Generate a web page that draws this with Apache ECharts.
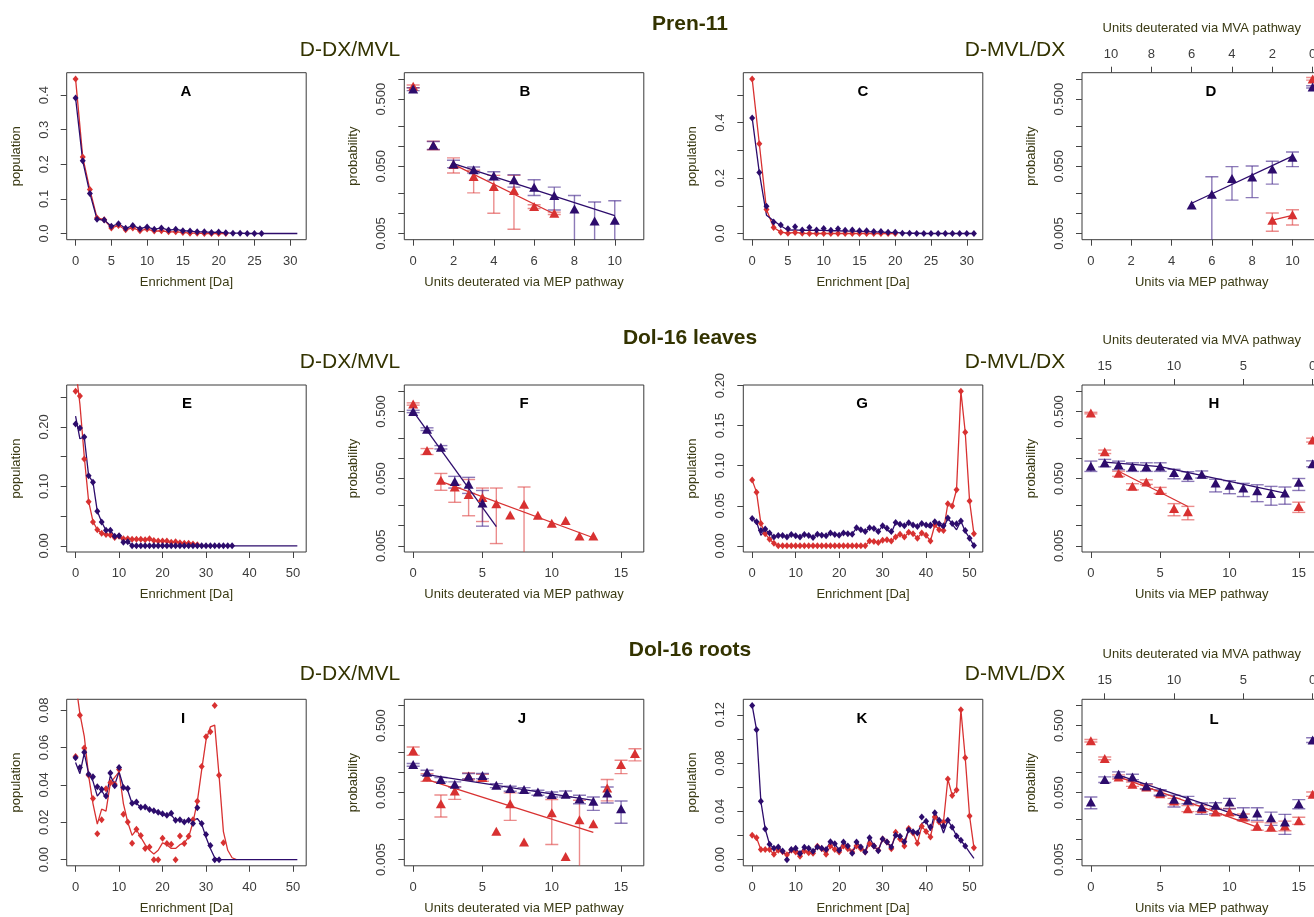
<!DOCTYPE html>
<html><head><meta charset="utf-8">
<script src="https://cdn.jsdelivr.net/npm/echarts@6/dist/echarts.min.js"></script>
<style>html,body{margin:0;padding:0;background:#fff}#c{width:1314px;height:917px}</style>
</head><body><div id="c"></div>
<script>
// ================= DATA =================
// Population panels: x = enrichment in Da = array index
const A_red_obs  = [0.447,0.221,0.127,0.045,0.040,0.016,0.023,0.011,0.016,0.008,0.013,0.007,0.008,0.005,0.005,0.003,0.001,0.001,0,0,0,0];
const A_red_fit  = [0.447,0.221,0.127,0.045,0.040,0.016,0.023,0.011,0.016,0.008,0.013,0.007,0.008,0.005,0.005,0.003,0.001,0.001,0,0,0,0];
const A_blue_obs = [0.392,0.210,0.116,0.041,0.039,0.021,0.028,0.015,0.023,0.014,0.019,0.012,0.016,0.010,0.012,0.008,0.007,0.005,0.005,0.003,0.004,0.002,0.001,0.001,0,0,0];
const A_blue_fit = [0.392,0.210,0.116,0.041,0.039,0.021,0.028,0.015,0.023,0.014,0.019,0.012,0.016,0.010,0.012,0.008,0.007,0.005,0.005,0.003,0.004,0.002,0.001,0.001,0,0,0,0,0,0,0,0];

const C_red_obs  = [0.558,0.324,0.087,0.022,0.005,0.001,0.004,0.001,0,0,0,0,0,0,0,0,0,0,0,0,0];
const C_red_fit  = [0.558,0.324,0.087,0.022,0.005,0.001,0.004,0.001,0,0,0,0,0,0,0,0,0,0,0,0,0];
const C_blue_obs = [0.417,0.220,0.098,0.042,0.031,0.017,0.024,0.013,0.022,0.013,0.018,0.012,0.017,0.012,0.013,0.010,0.010,0.007,0.007,0.005,0.005,0.001,0.001,0,0,0,0,0,0,0,0,0];
const C_blue_fit = [0.417,0.220,0.066,0.046,0.028,0.012,0.013,0.011,0.012,0.011,0.011,0.010,0.010,0.009,0.009,0.008,0.007,0.006,0.005,0.004,0.003,0.002,0.001,0.001,0,0,0,0,0,0,0,0];

const E_red_obs  = [0.260,0.252,0.146,0.074,0.040,0.027,0.021,0.019,0.018,0.014,0.016,0.012,0.012,0.011,0.011,0.011,0.010,0.012,0.009,0.008,0.008,0.008,0.006,0.007,0.005,0.0045,0.0045,0.003,0.002];
const E_red_fit  = [0.300,0.238,0.150,0.075,0.041,0.027,0.021,0.019,0.017,0.015,0.015,0.013,0.012,0.011,0.011,0.010,0.010,0.010,0.009,0.008,0.008,0.007,0.006,0.006,0.005,0.004,0.003,0.002,0.001];
const E_blue_obs = [0.205,0.198,0.183,0.118,0.107,0.058,0.040,0.026,0.026,0.016,0.017,0.006,0.007,0,0,0,0,0,0,0,0,0,0,0,0,0,0,0,0,0,0,0,0,0,0,0,0];
const E_blue_fit = [0.218,0.180,0.183,0.118,0.107,0.058,0.040,0.026,0.026,0.016,0.017,0.006,0.007,0,0,0,0,0,0,0,0,0,0,0,0,0,0,0,0,0,0,0,0,0,0,0,0,0,0,0,0,0,0,0,0,0,0,0,0,0,0,0];

const G_red_obs  = [0.082,0.067,0.028,0.015,0.0083,0.0033,0,0,0,0,0,0,0,0,0,0,0,0,0,0,0,0,0,0,0,0,0,0.006,0.0054,0.004,0.007,0.0075,0.006,0.011,0.0146,0.011,0.017,0.015,0.0096,0.016,0.0133,0.006,0.026,0.020,0.019,0.0525,0.0496,0.070,0.193,0.1417,0.0558,0.015];
const G_red_fit  = [0.082,0.067,0.028,0.015,0.0083,0.0033,0,0,0,0,0,0,0,0,0,0,0,0,0,0,0,0,0,0,0,0,0,0.006,0.0054,0.004,0.007,0.0075,0.006,0.011,0.0146,0.011,0.017,0.015,0.0096,0.016,0.0133,0.006,0.026,0.020,0.019,0.0525,0.0496,0.070,0.193,0.1417,0.0558,0.015];
const G_blue_obs = [0.034,0.030,0.019,0.021,0.016,0.011,0.013,0.013,0.011,0.014,0.0125,0.011,0.014,0.013,0.0104,0.0146,0.0133,0.0125,0.016,0.014,0.0133,0.016,0.015,0.0146,0.0225,0.020,0.018,0.0225,0.0217,0.018,0.025,0.022,0.018,0.029,0.027,0.025,0.0288,0.026,0.024,0.028,0.026,0.026,0.030,0.0275,0.025,0.0346,0.028,0.0275,0.031,0.019,0.0096,0.0004];
const G_blue_fit = [0.034,0.030,0.013,0.020,0.016,0.011,0.013,0.013,0.011,0.014,0.0125,0.011,0.014,0.013,0.0104,0.0146,0.0133,0.0125,0.016,0.014,0.0133,0.016,0.015,0.0146,0.0225,0.020,0.018,0.0225,0.0217,0.018,0.025,0.020,0.016,0.029,0.027,0.025,0.0288,0.026,0.024,0.028,0.026,0.022,0.030,0.0275,0.021,0.0346,0.027,0.020,0.031,0.018,0.0096,0];

const I_red_obs  = [0.0552,0.0773,0.0598,0.0452,0.0327,0.0138,0.0214,0.0379,0.0411,0.0404,0.0482,0.0243,0.0202,0.0088,0.0163,0.0129,0.0059,0.0068,0,0,0.0114,0.0086,0.0082,0,0.0127,0.0086,0.0125,0.0214,0.0313,0.0498,0.0657,0.0684,0.0825,0.0452,0.0091];
const I_red_fit  = [0.095,0.078,0.066,0.045,0.030,0.019,0.027,0.026,0.041,0.044,0.047,0.030,0.020,0.013,0.016,0.012,0.008,0.005,0.003,0.005,0.009,0.008,0.006,0.006,0.008,0.009,0.012,0.020,0.031,0.048,0.064,0.071,0.072,0.045,0.015,0.005,0.001,0];
const I_blue_obs = [0.0545,0.0493,0.0575,0.0457,0.0443,0.039,0.0377,0.0341,0.0464,0.0395,0.0493,0.0386,0.038,0.0302,0.0309,0.028,0.0282,0.0268,0.0261,0.0254,0.0246,0.0237,0.0248,0.0211,0.0214,0.0202,0.0211,0.0193,0.0277,0.0193,0.0134,0.0075,0,0];
const I_blue_fit = [0.052,0.046,0.057,0.046,0.042,0.034,0.037,0.033,0.045,0.040,0.047,0.039,0.037,0.030,0.030,0.028,0.028,0.027,0.026,0.025,0.024,0.024,0.024,0.021,0.021,0.020,0.021,0.021,0.022,0.019,0.012,0.006,0.001,0,0,0,0,0,0,0,0,0,0,0,0,0,0,0,0,0,0,0];

const K_red_obs  = [0.0201,0.0182,0.0083,0.0083,0.0083,0.0044,0.0077,0.0066,0.0041,0.0077,0.0063,0.0028,0.0072,0.0058,0.0052,0.011,0.0091,0.0044,0.0113,0.0083,0.0063,0.0113,0.0091,0.0063,0.0113,0.0091,0.0063,0.0132,0.0113,0.0077,0.0171,0.0146,0.0091,0.0226,0.0171,0.0113,0.0257,0.0221,0.0135,0.0276,0.0234,0.0188,0.0353,0.0312,0.0312,0.0668,0.0532,0.0577,0.1241,0.0844,0.0361,0.0099];
const K_red_fit  = [0.0201,0.0182,0.0083,0.0083,0.0083,0.0044,0.0077,0.0066,0.0041,0.0077,0.0063,0.0028,0.0072,0.0058,0.0052,0.011,0.0091,0.0044,0.0113,0.0083,0.0063,0.0113,0.0091,0.0063,0.0113,0.0091,0.0063,0.0132,0.0113,0.0077,0.0171,0.0146,0.0091,0.0226,0.0171,0.0113,0.0257,0.0221,0.0135,0.0276,0.0234,0.0188,0.0353,0.0312,0.0312,0.0668,0.0532,0.0577,0.1241,0.0844,0.0361,0.0099];
const K_blue_obs = [0.1277,0.1076,0.0483,0.0254,0.0127,0.0094,0.0105,0.0072,0,0.0083,0.0094,0.005,0.0102,0.0094,0.0069,0.0105,0.0094,0.0083,0.0149,0.0132,0.0077,0.0146,0.0113,0.0052,0.0146,0.0105,0.0063,0.0182,0.0113,0.0074,0.0171,0.0146,0.0105,0.0201,0.0193,0.0149,0.0246,0.0232,0.0221,0.0353,0.0317,0.027,0.0389,0.0326,0.0279,0.0326,0.0268,0.0196,0.016,0.0113];
const K_blue_fit = [0.1277,0.1076,0.0483,0.0254,0.0127,0.0094,0.0105,0.0072,0.0030,0.0083,0.0094,0.005,0.0102,0.0094,0.0069,0.0105,0.0094,0.0083,0.0149,0.0132,0.0077,0.0146,0.0113,0.0052,0.0146,0.0105,0.0063,0.0182,0.0113,0.0074,0.0171,0.0146,0.0105,0.0201,0.0193,0.0149,0.0246,0.0232,0.0221,0.0300,0.0317,0.024,0.0389,0.0326,0.022,0.0326,0.0268,0.0196,0.016,0.0113,0.006,0.001];

// Probability panels (log y): x = units deuterated via MEP pathway
const B_blue_x  = [0,1,2,3,4,5,6,7,8,9,10];
const B_blue_p  = [0.706,0.103,0.0542,0.0446,0.0362,0.0315,0.0245,0.0184,0.0116,0.0077,0.0079];
const B_blue_lo = [0.67,0.089,0.0478,0.0397,0.0311,0.0245,0.0184,0.0112,0.0039,0.003,0.003];
const B_blue_hi = [0.74,0.117,0.0615,0.0489,0.0415,0.0375,0.0316,0.0245,0.0184,0.0147,0.0154];
const B_red_x   = [0,1,2,3,4,5,6,7];
const B_red_p   = [0.774,0.103,0.0533,0.0354,0.0251,0.0218,0.0126,0.0100];
const B_red_lo  = [0.74,0.088,0.0397,0.0201,0.0100,0.0058,0.0118,0.0096];
const B_red_hi  = [0.81,0.118,0.0667,0.0436,0.0366,0.0366,0.0134,0.0104];
const B_blue_fit_x = [2,10], B_blue_fit = [0.0548,0.0092];
const B_red_fit_x  = [2,7],  B_red_fit  = [0.0533,0.00975];

const D_blue_x  = [5,6,7,8,9,10,11];
const D_blue_p  = [0.0133,0.0192,0.033,0.0346,0.0456,0.0682,0.757];
const D_blue_lo = [null,0.003,0.0157,0.0171,0.0272,0.0494,0.73];
const D_blue_hi = [null,0.035,0.0494,0.0505,0.0594,0.0816,0.79];
const D_red_x   = [9,10,11];
const D_red_p   = [0.0079,0.0095,1.0];
const D_red_lo  = [0.0054,0.0067,0.96];
const D_red_hi  = [0.0101,0.0113,1.05];
const D_blue_fit_x = [5,10], D_blue_fit = [0.0141,0.071];
const D_red_fit_x  = [9,10], D_red_fit  = [0.0079,0.0093];

const F_blue_x  = [0,1,2,3,4,5];
const F_blue_p  = [0.5,0.272,0.146,0.0451,0.0411,0.0216];
const F_blue_lo = [0.48,0.26,0.138,0.0362,0.0301,0.0098];
const F_blue_hi = [0.52,0.285,0.155,0.054,0.0522,0.0333];
const F_red_x   = [0,1,2,3,4,5,6,7,8,9,10,11,12,13];
const F_red_p   = [0.644,0.1315,0.0472,0.0375,0.0291,0.0262,0.0211,0.0144,0.0208,0.0143,0.0108,0.0119,0.0070,0.0070];
const F_red_lo  = [0.62,0.114,0.0335,0.0222,0.014,0.0115,0.0054,null,0.003,null,null,null,null,null];
const F_red_hi  = [0.67,0.14,0.0597,0.0407,0.0485,0.0362,0.0362,null,0.0375,null,null,null,null,null];
const F_blue_fit_x = [0,6],  F_blue_fit = [0.5,0.00964];
const F_red_fit_x  = [2,13], F_red_fit  = [0.0456,0.00659];

const H_blue_x  = [0,1,2,3,4,5,6,7,8,9,10,11,12,13,14,15,16];
const H_blue_p  = [0.0766,0.0859,0.0802,0.0748,0.0748,0.0766,0.0615,0.0561,0.058,0.0431,0.0397,0.0362,0.033,0.0301,0.0305,0.044,0.083];
const H_blue_lo = [0.0639,0.0748,0.068,0.064,0.064,0.064,0.0497,0.0455,0.051,0.0317,0.0298,0.027,0.0227,0.0201,0.0208,0.0333,0.075];
const H_blue_hi = [0.0912,0.0966,0.091,0.086,0.086,0.086,0.0688,0.0633,0.065,0.0489,0.0466,0.0425,0.0405,0.0383,0.0375,0.0502,0.092];
const H_red_x   = [0,1,2,3,4,5,6,7,15,16];
const H_red_p   = [0.472,0.1256,0.0601,0.0384,0.0446,0.0334,0.018,0.016,0.0192,0.188];
const H_red_lo  = [0.46,0.118,0.054,0.034,0.041,0.030,0.014,0.0122,0.0157,0.175];
const H_red_hi  = [0.485,0.133,0.0645,0.042,0.048,0.037,0.0212,0.0193,0.0223,0.20];
const H_blue_fit_x = [1,5,14], H_blue_fit = [0.088,0.0752,0.0305];
const H_red_fit_x  = [2,7],    H_red_fit  = [0.0644,0.0192];

const J_blue_x  = [0,1,2,3,4,5,6,7,8,9,10,11,12,13,14,15];
const J_blue_p  = [0.1315,0.101,0.0783,0.0667,0.0879,0.090,0.0644,0.0574,0.0555,0.0512,0.0467,0.0472,0.0406,0.0371,0.0494,0.0288];
const J_blue_lo = [0.124,0.091,0.0723,0.0608,0.081,0.081,0.0594,0.0524,0.0494,0.0456,0.0431,0.0431,0.0342,0.0272,0.035,0.0175];
const J_blue_hi = [0.136,0.108,0.084,0.0723,0.0964,0.0964,0.0682,0.0622,0.0594,0.0542,0.0512,0.053,0.0456,0.0431,0.0608,0.0375];
const J_red_x   = [0,1,2,3,4,5,6,7,8,10,11,12,13,14,15,16];
const J_red_p   = [0.211,0.0859,0.0342,0.053,0.0889,0.084,0.0133,0.0342,0.0092,0.025,0.00555,0.0197,0.0171,0.0587,0.1315,0.192];
const J_red_lo  = [0.18,0.0735,0.0216,0.0396,0.078,0.074,null,0.0193,null,0.0084,null,0.003,null,0.0376,0.096,0.149];
const J_red_hi  = [0.24,0.096,0.046,0.061,0.098,0.094,null,0.0495,null,0.0395,null,0.0385,null,0.0786,0.152,0.226];
const J_blue_fit_x = [1,13], J_blue_fit = [0.0931,0.0384];
const J_red_fit_x  = [1,13], J_red_fit  = [0.0783,0.0128];

const L_blue_x  = [0,1,2,3,4,5,6,7,8,9,10,11,12,13,14,15,16];
const L_blue_p  = [0.0362,0.0783,0.0942,0.0859,0.063,0.0512,0.0397,0.0384,0.0305,0.0323,0.0362,0.0242,0.0248,0.0211,0.0182,0.0342,0.305];
const L_blue_lo = [0.0288,0.0707,0.0859,0.0783,0.0574,0.0456,0.0305,0.0342,0.0237,0.0242,0.0288,0.0197,0.0193,0.0162,0.0119,0.0288,0.28];
const L_blue_hi = [0.0431,0.0859,0.102,0.0942,0.0682,0.0555,0.0456,0.044,0.035,0.0354,0.0411,0.0298,0.0298,0.0256,0.0237,0.0393,0.33];
const L_red_x   = [0,1,2,3,4,5,6,7,8,9,10,11,12,13,14,15,16];
const L_red_p   = [0.298,0.162,0.0859,0.0667,0.0608,0.0483,0.0375,0.0288,0.0288,0.0256,0.0256,0.0216,0.0158,0.0153,0.016,0.019,0.0472];
const L_red_lo  = [0.285,0.155,0.080,0.062,0.056,0.044,0.034,0.026,0.026,0.023,0.023,0.019,0.0137,0.0132,0.0135,0.0168,0.044];
const L_red_hi  = [0.31,0.17,0.092,0.072,0.066,0.053,0.041,0.032,0.032,0.029,0.029,0.024,0.0182,0.0177,0.0188,0.0214,0.051];
const L_blue_fit_x = [2,11], L_blue_fit = [0.091,0.0216];
const L_red_fit_x  = [2,12], L_red_fit  = [0.0859,0.0153];

// Tick values
const X_TICKS_30 = [0,5,10,15,20,25,30];
const X_TICKS_50 = [0,10,20,30,40,50];
const X_TICKS_10 = [0,2,4,6,8,10];
const X_TICKS_15 = [0,5,10,15];
const MVA_TICKS_D = [0,2,4,6,8,10];
const MVA_TICKS_HL = [0,5,10,15];
const LOG_TICKS = [0.005,0.01,0.02,0.05,0.1,0.2,0.5,1];
const LOG_LABELS = [0.005,0.05,0.5];
const A_yticks = [0,0.1,0.2,0.3,0.4], A_ylabels = [0,0.1,0.2,0.3,0.4];
const C_yticks = [0,0.1,0.2,0.3,0.4,0.5], C_ylabels = [0,0.2,0.4];
const E_yticks = [0,0.05,0.1,0.15,0.2,0.25], E_ylabels = [0,0.1,0.2];
const G_yticks = [0,0.05,0.1,0.15,0.2], G_ylabels = [0,0.05,0.1,0.15,0.2];
const I_yticks = [0,0.02,0.04,0.06,0.08], I_ylabels = [0,0.02,0.04,0.06,0.08];
const K_yticks = [0,0.02,0.04,0.06,0.08,0.1,0.12], K_ylabels = [0,0.04,0.08,0.12];

// ================= STYLE / LAYOUT =================
const RED = '#d83131', BLUE = '#2d0c6c';
const RED_EB = 'rgba(222,70,70,0.62)', BLUE_EB = 'rgba(70,40,140,0.62)';
const FONT = '"Liberation Sans", Arial, Helvetica, sans-serif';
const TXT = '#3a3a14', TICKC = '#3c3c3c';
const COLS = [66.7, 404.3, 743.3, 1082], ROWS = [72.7, 385, 699.3], W = 239.5, HS = [167, 167, 166.5];
const LOGMIN = 0.004044, LOGMAX = 1.2362;

const grids = [], xAxes = [], yAxes = [], series = [], graphics = [];

function axisCommon(ticks, labels, fmt, margin){
  return {
    axisLine:{show:false, onZero:false}, splitLine:{show:false},
    axisTick:{show:true, inside:false, length:6, lineStyle:{color:'#444', width:1}, customValues:ticks},
    axisLabel:{show:true, customValues:labels, margin:margin, color:TICKC, fontFamily:FONT, fontSize:13, formatter:fmt, hideOverlap:false},
    nameTextStyle:{color:TXT, fontFamily:FONT, fontSize:13}
  };
}

function panel(o){
  const gi = grids.length;
  grids.push({left:COLS[o.col], top:ROWS[o.row], width:W, height:HS[o.row], show:true,
    borderColor:'#3a3a3a', borderWidth:1, backgroundColor:'rgba(0,0,0,0)', containLabel:false, outerBoundsMode:'none'});
  const xi = xAxes.length;
  xAxes.push(Object.assign({gridIndex:gi, type:'value', position:'bottom', min:o.xr[0], max:o.xr[1],
    name:o.xname, nameLocation:'middle', nameGap:36}, axisCommon(o.xt, o.xt, v=>String(v), 15)));
  if (o.mva){
    xAxes.push(Object.assign({gridIndex:gi, type:'value', position:'top', inverse:true, min:o.xr[0], max:o.xr[1],
      name:'Units deuterated via MVA pathway', nameLocation:'middle', nameGap:38}, axisCommon(o.mva, o.mva, v=>String(v), 12)));
  }
  const yi = yAxes.length;
  if (o.log){
    yAxes.push(Object.assign({gridIndex:gi, type:'log', logBase:10, min:LOGMIN, max:LOGMAX,
      name:'probability', nameLocation:'middle', nameGap:44}, axisCommon(LOG_TICKS, LOG_LABELS, v=>Number(v).toFixed(3), 16)));
  } else {
    yAxes.push(Object.assign({gridIndex:gi, type:'value', min:o.yr[0], max:o.yr[1],
      name:'population', nameLocation:'middle', nameGap:44}, axisCommon(o.yt, o.yl, v=>Number(v).toFixed(o.dec), 16)));
  }
  yAxes[yi].axisLabel.rotate = 90;
  graphics.push(txt(o.letter, o.lx, o.ly, 'bold 15px ' + FONT, '#000'));
  return {xi, yi};
}

function idxPairs(arr){ return arr.map((v,i)=>[i,v]); }
function xyPairs(xs, ys){ return xs.map((x,i)=>[x, ys[i]]); }

function lineS(ax, data, color){
  return {type:'line', xAxisIndex:ax.xi, yAxisIndex:ax.yi, data, showSymbol:false, symbol:'none',
    lineStyle:{color, width:1.3}, itemStyle:{color}, clip:true, silent:true, z:3, animation:false};
}
function ptsS(ax, data, color, symbol, size){
  return {type:'scatter', xAxisIndex:ax.xi, yAxisIndex:ax.yi, data, symbol, symbolSize:size,
    itemStyle:{color, opacity:1}, clip:true, silent:true, z:4, animation:false};
}
function errS(ax, xs, lo, hi, color){
  const data = [];
  xs.forEach((x,i)=>{ if (lo[i] != null && hi[i] != null) data.push([x, lo[i], hi[i]]); });
  return {type:'custom', xAxisIndex:ax.xi, yAxisIndex:ax.yi, data, clip:true, silent:true, z:2, animation:false,
    encode:{x:0, y:[1,2]},
    renderItem:(params, api)=>{
      const x = api.value(0);
      const a = api.coord([x, api.value(1)]), b = api.coord([x, api.value(2)]);
      const w = 6.5, st = {stroke:color, lineWidth:1.4};
      return {type:'group', children:[
        {type:'line', shape:{x1:a[0], y1:a[1], x2:b[0], y2:b[1]}, style:st},
        {type:'line', shape:{x1:a[0]-w, y1:a[1], x2:a[0]+w, y2:a[1]}, style:st},
        {type:'line', shape:{x1:b[0]-w, y1:b[1], x2:b[0]+w, y2:b[1]}, style:st}
      ]};
    }};
}
function txt(text, x, y, font, fill){
  return {type:'text', silent:true, z:100,
    style:{text, x, y, font, fill, align:'center', verticalAlign:'middle', textAlign:'center', textVerticalAlign:'middle'}};
}

function popPanel(o, rObs, rFit, bObs, bFit){
  const ax = panel(o);
  series.push(lineS(ax, idxPairs(rFit), RED));
  series.push(ptsS(ax, idxPairs(rObs), RED, 'diamond', [6,7]));
  series.push(lineS(ax, idxPairs(bFit), BLUE));
  series.push(ptsS(ax, idxPairs(bObs), BLUE, 'diamond', [6,7]));
}
function probPanel(o, r, b){
  const ax = panel(o);
  series.push(errS(ax, r.x, r.lo, r.hi, RED_EB));
  series.push(errS(ax, b.x, b.lo, b.hi, BLUE_EB));
  series.push(lineS(ax, xyPairs(r.fx, r.f), RED));
  series.push(lineS(ax, xyPairs(b.fx, b.f), BLUE));
  series.push(ptsS(ax, xyPairs(r.x, r.p), RED, 'triangle', [10,9]));
  series.push(ptsS(ax, xyPairs(b.x, b.p), BLUE, 'triangle', [10,9]));
}

const EN = 'Enrichment [Da]', MEP1 = 'Units deuterated via MEP pathway', MEP2 = 'Units via MEP pathway';

// Row 1: Pren-11
popPanel({row:0,col:0,xr:[-1.24,32.24],xt:X_TICKS_30,yr:[-0.0179,0.4649],yt:A_yticks,yl:A_ylabels,dec:1,xname:EN,letter:'A',lx:186,ly:92},
  A_red_obs, A_red_fit, A_blue_obs, A_blue_fit);
probPanel({row:0,col:1,log:true,xr:[-0.44,11.44],xt:X_TICKS_10,xname:MEP1,letter:'B',lx:525,ly:92},
  {x:B_red_x,p:B_red_p,lo:B_red_lo,hi:B_red_hi,fx:B_red_fit_x,f:B_red_fit},
  {x:B_blue_x,p:B_blue_p,lo:B_blue_lo,hi:B_blue_hi,fx:B_blue_fit_x,f:B_blue_fit});
popPanel({row:0,col:2,xr:[-1.24,32.24],xt:X_TICKS_30,yr:[-0.0223,0.5803],yt:C_yticks,yl:C_ylabels,dec:1,xname:EN,letter:'C',lx:863,ly:92},
  C_red_obs, C_red_fit, C_blue_obs, C_blue_fit);
probPanel({row:0,col:3,log:true,xr:[-0.44,11.44],xt:X_TICKS_10,mva:MVA_TICKS_D,xname:MEP2,letter:'D',lx:1211,ly:92},
  {x:D_red_x,p:D_red_p,lo:D_red_lo,hi:D_red_hi,fx:D_red_fit_x,f:D_red_fit},
  {x:D_blue_x,p:D_blue_p,lo:D_blue_lo,hi:D_blue_hi,fx:D_blue_fit_x,f:D_blue_fit});

// Row 2: Dol-16 leaves
popPanel({row:1,col:0,xr:[-2.04,53.04],xt:X_TICKS_50,yr:[-0.0104,0.2704],yt:E_yticks,yl:E_ylabels,dec:2,xname:EN,letter:'E',lx:187,ly:404},
  E_red_obs, E_red_fit, E_blue_obs, E_blue_fit);
probPanel({row:1,col:1,log:true,xr:[-0.64,16.64],xt:X_TICKS_15,xname:MEP1,letter:'F',lx:524,ly:404},
  {x:F_red_x,p:F_red_p,lo:F_red_lo,hi:F_red_hi,fx:F_red_fit_x,f:F_red_fit},
  {x:F_blue_x,p:F_blue_p,lo:F_blue_lo,hi:F_blue_hi,fx:F_blue_fit_x,f:F_blue_fit});
popPanel({row:1,col:2,xr:[-2.04,53.04],xt:X_TICKS_50,yr:[-0.0077,0.2007],yt:G_yticks,yl:G_ylabels,dec:2,xname:EN,letter:'G',lx:862,ly:404},
  G_red_obs, G_red_fit, G_blue_obs, G_blue_fit);
probPanel({row:1,col:3,log:true,xr:[-0.64,16.64],xt:X_TICKS_15,mva:MVA_TICKS_HL,xname:MEP2,letter:'H',lx:1214,ly:404},
  {x:H_red_x,p:H_red_p,lo:H_red_lo,hi:H_red_hi,fx:H_red_fit_x,f:H_red_fit},
  {x:H_blue_x,p:H_blue_p,lo:H_blue_lo,hi:H_blue_hi,fx:H_blue_fit_x,f:H_blue_fit});

// Row 3: Dol-16 roots
popPanel({row:2,col:0,xr:[-2.04,53.04],xt:X_TICKS_50,yr:[-0.0033,0.0858],yt:I_yticks,yl:I_ylabels,dec:2,xname:EN,letter:'I',lx:183,ly:719},
  I_red_obs, I_red_fit, I_blue_obs, I_blue_fit);
probPanel({row:2,col:1,log:true,xr:[-0.64,16.64],xt:X_TICKS_15,xname:MEP1,letter:'J',lx:522,ly:719},
  {x:J_red_x,p:J_red_p,lo:J_red_lo,hi:J_red_hi,fx:J_red_fit_x,f:J_red_fit},
  {x:J_blue_x,p:J_blue_p,lo:J_blue_lo,hi:J_blue_hi,fx:J_blue_fit_x,f:J_blue_fit});
popPanel({row:2,col:2,xr:[-2.04,53.04],xt:X_TICKS_50,yr:[-0.0051,0.1328],yt:K_yticks,yl:K_ylabels,dec:2,xname:EN,letter:'K',lx:862,ly:719},
  K_red_obs, K_red_fit, K_blue_obs, K_blue_fit);
probPanel({row:2,col:3,log:true,xr:[-0.64,16.64],xt:X_TICKS_15,mva:MVA_TICKS_HL,xname:MEP2,letter:'L',lx:1214,ly:720},
  {x:L_red_x,p:L_red_p,lo:L_red_lo,hi:L_red_hi,fx:L_red_fit_x,f:L_red_fit},
  {x:L_blue_x,p:L_blue_p,lo:L_blue_lo,hi:L_blue_hi,fx:L_blue_fit_x,f:L_blue_fit});

// Titles
const TITLE_C = '#333300';
[['Pren-11',24],['Dol-16 leaves',338],['Dol-16 roots',650]].forEach(([t,y])=>{
  graphics.push(txt(t, 690, y, 'bold 21px ' + FONT, TITLE_C));
});
[50, 362, 674].forEach(y=>{
  graphics.push(txt('D-DX/MVL', 350, y, '21px ' + FONT, TITLE_C));
  graphics.push(txt('D-MVL/DX', 1015, y, '21px ' + FONT, TITLE_C));
});

const chart = echarts.init(document.getElementById('c'), null, {renderer:'canvas', width:1314, height:917});
chart.setOption({
  animation:false,
  backgroundColor:'#ffffff',
  grid:grids, xAxis:xAxes, yAxis:yAxes, series:series, graphic:graphics
});
</script></body></html>
